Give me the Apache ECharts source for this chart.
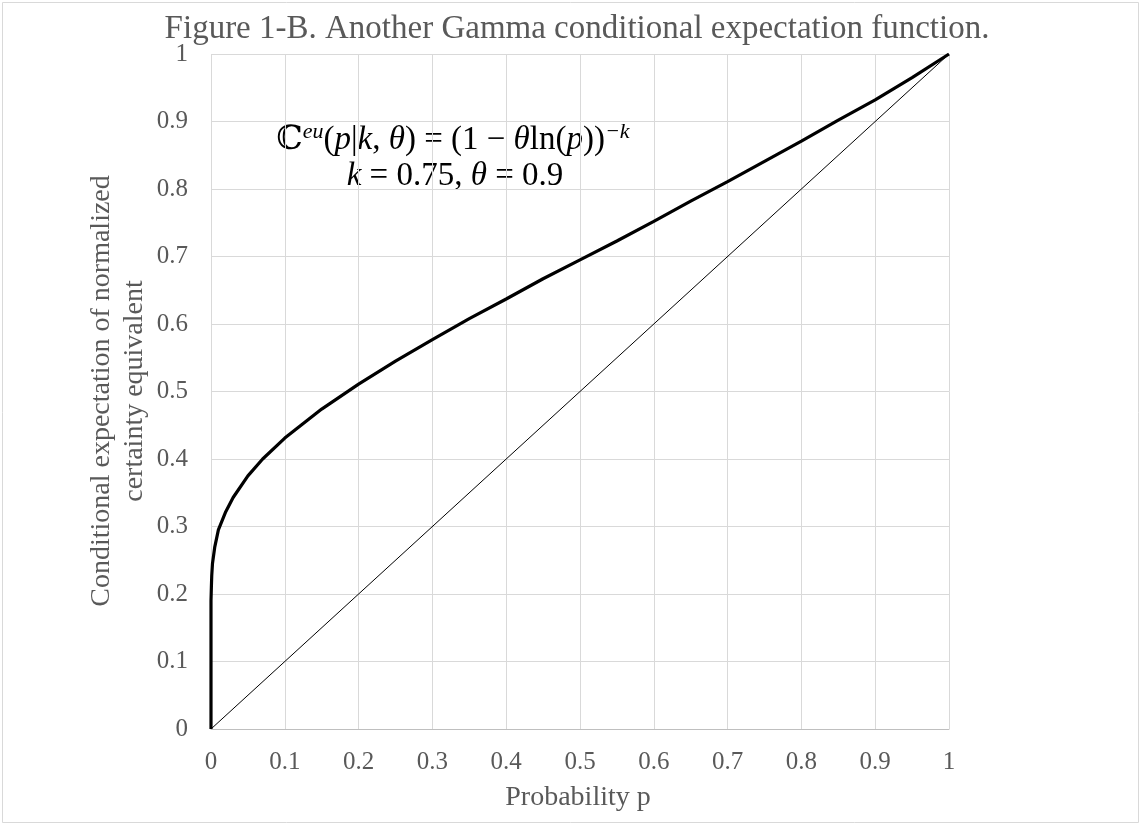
<!DOCTYPE html>
<html>
<head>
<meta charset="utf-8">
<script src="https://cdn.jsdelivr.net/npm/echarts@6/dist/echarts.min.js"></script>
<style>
html,body{margin:0;padding:0;background:#fff;}
#chart{width:1140px;height:824px;}
</style>
</head>
<body>
<div id="chart"></div>
<script>
// ---- data ----
const titleText = 'Figure 1-B. Another Gamma conditional expectation function.';
const xAxisTitle = 'Probability p';
const yAxisTitleLines = ['Conditional expectation of normalized', 'certainty equivalent'];
const axisMin = 0, axisMax = 1, axisStep = 0.1;

// thick curve: probability p
const curveP = [0, 0, 0.0005, 0.001, 0.002, 0.005, 0.01, 0.02, 0.03, 0.05, 0.07, 0.1, 0.15, 0.2, 0.25, 0.3, 0.35, 0.4, 0.45, 0.5, 0.55, 0.6, 0.65, 0.7, 0.75, 0.8, 0.85, 0.9, 0.95, 1];
// thick curve: conditional expectation value
const curveC = [0, 0.19, 0.21, 0.227, 0.245, 0.269, 0.295, 0.322, 0.343, 0.375, 0.4, 0.431, 0.474, 0.511, 0.545, 0.577, 0.608, 0.637, 0.667, 0.695, 0.723, 0.752, 0.782, 0.811, 0.841, 0.871, 0.902, 0.932, 0.965, 1];
// thin reference diagonal
const diagP = [0, 1];
const diagC = [0, 1];

const chart = echarts.init(document.getElementById('chart'));
const serif = '"Liberation Serif", "DejaVu Serif", serif';
const grey = '#595959';

const fmt = v => String(Math.round(v * 10) / 10);

chart.setOption({
  backgroundColor: '#fff',
  animation: false,
  title: {
    text: titleText,
    left: 572, top: 8, textAlign: 'center',
    textStyle: {fontFamily: serif, fontSize: 33, fontWeight: 'normal', color: grey}
  },
  grid: {left: 211, top: 54, right: 191, bottom: 95},
  xAxis: {
    type: 'value', min: axisMin, max: axisMax, interval: axisStep,
    axisLine: {show: true, lineStyle: {color: '#bfbfbf', width: 1}},
    axisTick: {show: false},
    axisLabel: {fontFamily: serif, fontSize: 25, color: grey, margin: 21, formatter: fmt},
    splitLine: {show: true, lineStyle: {color: '#d9d9d9', width: 1}}
  },
  yAxis: {
    type: 'value', min: axisMin, max: axisMax, interval: axisStep,
    axisLine: {show: false},
    axisTick: {show: false},
    axisLabel: {fontFamily: serif, fontSize: 25, color: grey, margin: 23, formatter: fmt},
    splitLine: {show: true, lineStyle: {color: '#d9d9d9', width: 1}}
  },
  series: [
    {
      type: 'line', data: diagP.map((p, i) => [p, diagC[i]]),
      showSymbol: false, lineStyle: {color: '#000', width: 1}, z: 3
    },
    {
      type: 'line', data: curveP.map((p, i) => [p, curveC[i]]),
      showSymbol: false, lineStyle: {color: '#000', width: 3.2}, z: 4
    }
  ],
  graphic: [
    {type: 'rect', shape: {x: 2.5, y: 2.5, width: 1136, height: 820}, style: {fill: 'none', stroke: '#d9d9d9', lineWidth: 1}, silent: true},
    {
      type: 'text', x: 578, y: 798,
      style: {text: xAxisTitle, font: '28px ' + serif, fill: grey, align: 'center', verticalAlign: 'middle'}
    },
    {
      type: 'text', x: 118, y: 391, rotation: Math.PI / 2,
      style: {text: yAxisTitleLines.join('\n'), font: '28px ' + serif, fill: grey, align: 'center', verticalAlign: 'middle', lineHeight: 33}
    },
    {
      type: 'text', x: 453, y: 140,
      style: {
        text: '{m|ℂ}{s|eu}{m|(}{i|p}{m||}{i|k}{m|, }{i|θ}{m|) = (1 − }{i|θ}{m|ln(}{i|p}{m|))}{s|−k}',
        align: 'center', verticalAlign: 'middle',
        rich: {
          m: {fontFamily: serif, fontSize: 33, fill: '#000', lineHeight: 38},
          i: {fontFamily: serif, fontSize: 33, fontStyle: 'italic', fill: '#000', lineHeight: 38},
          s: {fontFamily: serif, fontSize: 22, fontStyle: 'italic', fill: '#000', verticalAlign: 'top', lineHeight: 22}
        }
      }
    },
    {
      type: 'text', x: 455, y: 176,
      style: {
        text: '{i|k}{m| = 0.75, }{i|θ}{m| = 0.9}',
        align: 'center', verticalAlign: 'middle',
        rich: {
          m: {fontFamily: serif, fontSize: 33, fill: '#000'},
          i: {fontFamily: serif, fontSize: 33, fontStyle: 'italic', fill: '#000'}
        }
      }
    }
  ]
});
</script>
</body>
</html>
